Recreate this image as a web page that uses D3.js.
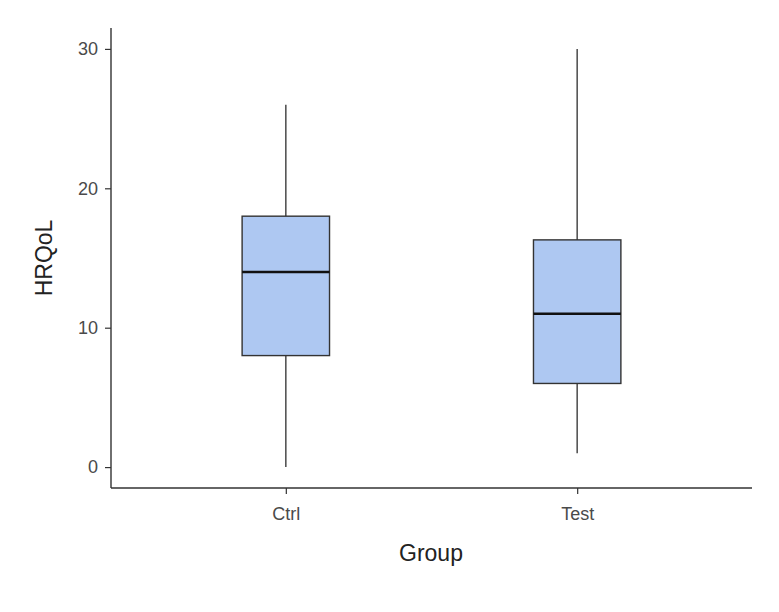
<!DOCTYPE html>
<html>
<head>
<meta charset="utf-8">
<script src="https://cdn.jsdelivr.net/npm/d3@7"></script>
<style>
  body { margin: 0; background: #fff; }
  svg text { font-family: "Liberation Sans", Arial, sans-serif; }
</style>
</head>
<body>
<div id="container"></div>
<script>
"use strict";

// box stats
var groups = ["Ctrl", "Test"];
var lowWhisker = [0, 1];
var q1 = [8, 6];
var median = [14, 11];
var q3 = [18, 16.3];
var highWhisker = [26, 30];
var yTicks = [0, 10, 20, 30];

var width = 779;
var height = 612;
var svg = d3.select("#container").append("svg")
    .attr("width", width).attr("height", height);

var x = d3.scalePoint().domain(groups).range([111, 752]).padding(0.6);
var y = d3.scaleLinear().domain([-1.5, 31.5]).range([488, 28]);
var boxW = x.step() * 0.3;

var data = groups.map(function (g, i) {
    return { name: g, lo: lowWhisker[i], q1: q1[i], med: median[i], q3: q3[i], hi: highWhisker[i] };
});

// axes
var yAxis = svg.append("g").attr("transform", "translate(111,0)")
    .call(d3.axisLeft(y).tickValues(yTicks).tickSize(6).tickPadding(7).tickSizeOuter(0));
var xAxis = svg.append("g").attr("transform", "translate(0,488)")
    .call(d3.axisBottom(x).tickSize(6).tickPadding(13).tickSizeOuter(0));

[yAxis, xAxis].forEach(function (a) {
    a.attr("font-size", null);
    a.select(".domain").attr("stroke", "#333").attr("stroke-width", 1.4);
    a.selectAll(".tick line").attr("stroke", "#333").attr("stroke-width", 1.2);
    a.selectAll(".tick text").attr("fill", "#4a4a4a").style("font-size", "18px");
});
// extend the axis lines to meet in the corner
yAxis.select(".domain").attr("d", "M0," + y(31.5) + "V" + y(-1.5));
xAxis.select(".domain").attr("d", "M111,0H752");

var box = svg.append("g").selectAll("g.box").data(data).enter()
    .append("g").attr("class", "box");

box.append("line")
    .attr("x1", function (d) { return x(d.name); })
    .attr("x2", function (d) { return x(d.name); })
    .attr("y1", function (d) { return y(d.hi); })
    .attr("y2", function (d) { return y(d.q3); })
    .attr("stroke", "#555").attr("stroke-width", 1.6);

box.append("line")
    .attr("x1", function (d) { return x(d.name); })
    .attr("x2", function (d) { return x(d.name); })
    .attr("y1", function (d) { return y(d.q1); })
    .attr("y2", function (d) { return y(d.lo); })
    .attr("stroke", "#555").attr("stroke-width", 1.6);

box.append("rect")
    .attr("x", function (d) { return x(d.name) - boxW / 2; })
    .attr("width", boxW)
    .attr("y", function (d) { return y(d.q3); })
    .attr("height", function (d) { return y(d.q1) - y(d.q3); })
    .attr("fill", "#aec8f2")
    .attr("stroke", "#333").attr("stroke-width", 1.4);

box.append("line")
    .attr("x1", function (d) { return x(d.name) - boxW / 2; })
    .attr("x2", function (d) { return x(d.name) + boxW / 2; })
    .attr("y1", function (d) { return y(d.med); })
    .attr("y2", function (d) { return y(d.med); })
    .attr("stroke", "#111").attr("stroke-width", 2.6);

// axis titles
svg.append("text")
    .attr("transform", "translate(52,258) rotate(-90)")
    .attr("text-anchor", "middle")
    .attr("fill", "#222")
    .style("font-size", "23px")
    .text("HRQoL");

svg.append("text")
    .attr("x", 431).attr("y", 561)
    .attr("text-anchor", "middle")
    .attr("fill", "#222")
    .style("font-size", "23px")
    .text("Group");
</script>
</body>
</html>
